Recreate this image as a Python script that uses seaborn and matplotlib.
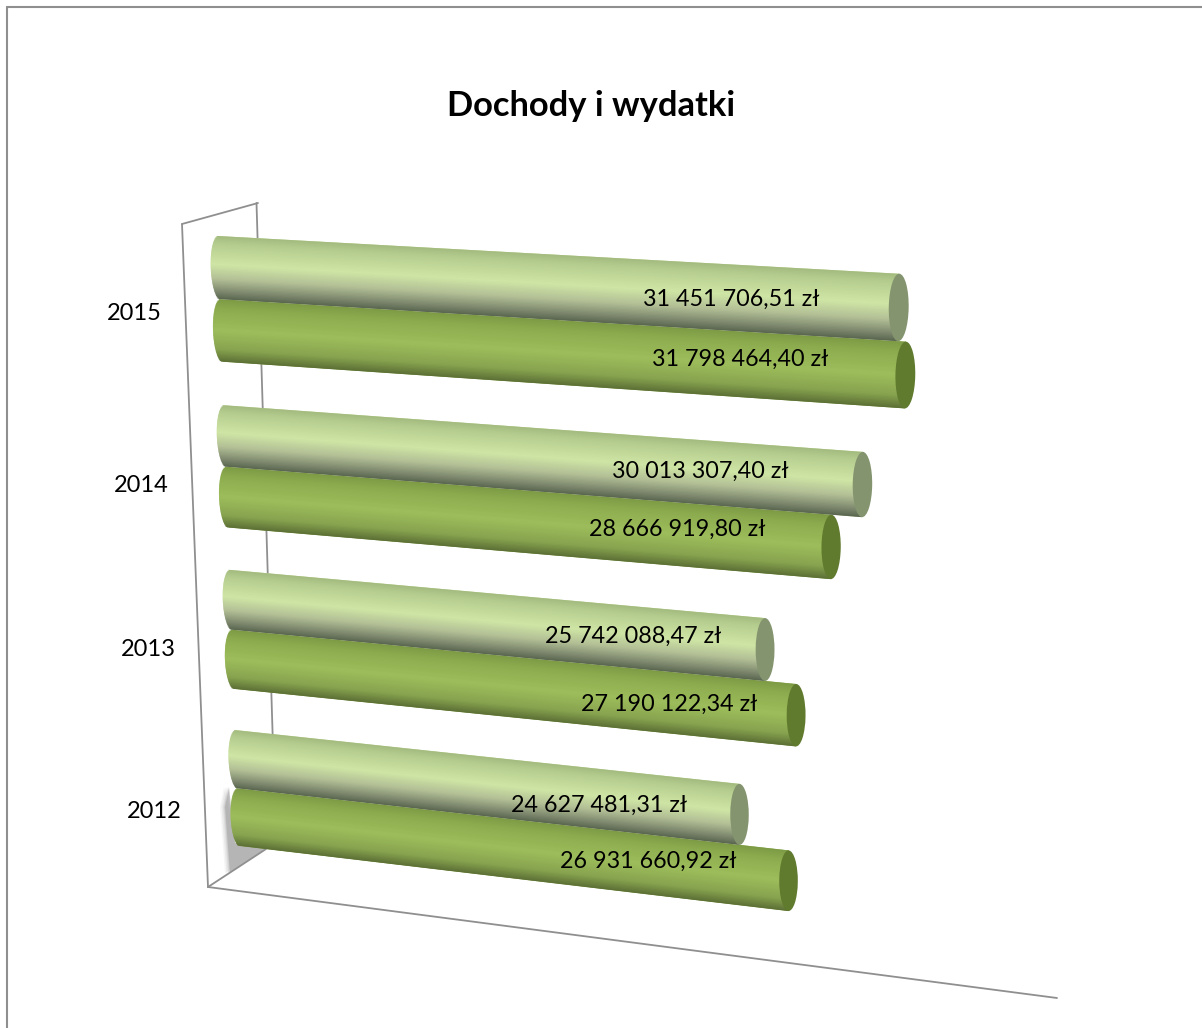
import numpy as np
import pandas as pd
import seaborn as sns
import matplotlib
matplotlib.use("Agg")
import matplotlib.pyplot as plt
from matplotlib.colors import LinearSegmentedColormap
from matplotlib.patches import Ellipse, Polygon
from matplotlib.transforms import Transform

# ---- data ----
years = ["2015", "2014", "2013", "2012"]
series_a = [31451706.51, 30013307.40, 25742088.47, 24627481.31]
series_b = [31798464.40, 28666919.80, 27190122.34, 26931660.92]
labels_a = ["31 451 706,51 zł", "30 013 307,40 zł", "25 742 088,47 zł", "24 627 481,31 zł"]
labels_b = ["31 798 464,40 zł", "28 666 919,80 zł", "27 190 122,34 zł", "26 931 660,92 zł"]
title = "Dochody i wydatki"

# ---- layout ----
W, H = 1202, 1028
label_xy_a = [(731, 299), (700, 471), (633, 636), (599, 805)]
label_xy_b = [(740, 359), (677, 529), (669, 704), (648, 861)]
year_xy = [(134, 313), (141, 485), (148, 649), (154, 811)]
FONT = "Lato"
UNIT = 1e7


def homography(src, dst):
    """Least-squares plane-to-plane fit; value axis is rescaled for conditioning."""
    A, b = [], []
    for (u, v), (x, y) in zip(src, dst):
        u = u / UNIT
        A.append([u, v, 1, 0, 0, 0, -u * x, -v * x]); b.append(x)
        A.append([0, 0, 0, u, v, 1, -u * y, -v * y]); b.append(y)
    sol = np.linalg.lstsq(np.array(A, float), np.array(b, float), rcond=None)[0]
    return np.append(sol, 1).reshape(3, 3) @ np.diag([1 / UNIT, 1, 1])


class Perspective(Transform):
    """Maps (value, category position) onto the tilted 3D plane of the chart."""
    input_dims = output_dims = 2
    is_separable = False
    has_inverse = False

    def __init__(self, matrix):
        super().__init__()
        self.m = matrix

    def transform_non_affine(self, values):
        p = np.column_stack([values, np.ones(len(values))]) @ self.m.T
        return p[:, :2] / p[:, 2:3]


# calibration of the 3D view: axis position -> pixel on the picture
persp = Perspective(homography(
    [(0, 0), (0, 1), (0, 2), (0, 3),
     (31.45e6, 0), (31.8e6, 0), (30.01e6, 1), (28.67e6, 1),
     (25.74e6, 2), (27.19e6, 2), (24.63e6, 3), (26.93e6, 3)],
    [(221, 299), (226, 467), (232, 630), (238, 788),
     (898, 340), (906, 342), (862, 518), (831, 516),
     (766, 680), (796, 683), (740, 845), (788, 851)]))

sns.set_theme(style="white")
df = pd.DataFrame({
    "rok": years * 2,
    "kwota": series_a + series_b,
    "seria": ["Wydatki"] * 4 + ["Dochody"] * 4,
})

fig = plt.figure(figsize=(W / 100, H / 100), dpi=100, facecolor="white")
ax = fig.add_axes([0, 0, 1, 1])
sns.barplot(data=df, y="rok", x="kwota", hue="seria", order=years,
            hue_order=["Wydatki", "Dochody"], orient="h", width=0.74, gap=0,
            palette=["#c4da9a", "#94b355"], legend=False, errorbar=None,
            saturation=1, ax=ax)

cmap_a = LinearSegmentedColormap.from_list("a", [
    (0, "#a3bb7e"), (.12, "#b4cc8e"), (.45, "#cfe5a5"), (.68, "#b3c096"),
    (.86, "#838e72"), (1, "#5b6651")])
cmap_b = LinearSegmentedColormap.from_list("b", [
    (0, "#7c9a44"), (.15, "#8cab4e"), (.5, "#9dbd5b"), (.8, "#88a44f"), (1, "#5c7036")])
styles = [(cmap_a, "#84946f", 5), (cmap_b, "#607a2e", 4)]
CAP = 0.43e6
N = 48

tr = persp + ax.transData
for (cmap, end, z), cont in zip(styles, ax.containers):
    for bar in cont:
        x, y, w, h = bar.get_x(), bar.get_y(), bar.get_width(), bar.get_height()
        bar.set_transform(tr)
        bar.set_zorder(z)
        bar.set_edgecolor("none")
        for i in range(N):
            t = (i + .5) / N
            s = 2 * t - 1
            inset = CAP * np.sqrt(max(0, 1 - s * s))
            strip = ax.barh(y + h * i / N, x + w + inset, height=h * 1.7 / N, left=-inset,
                            align="edge", color=cmap(t), linewidth=0, zorder=z)[0]
            if i == N - 1:
                strip.set_height(h / N)
            strip.set_transform(tr)
        ax.add_patch(Ellipse((x + w, y + h / 2), 2 * CAP, h, facecolor=end, edgecolor="none",
                             transform=tr, zorder=z))

ax.set_xlim(0, W)
ax.set_ylim(H, 0)
ax.axis("off")
ax.patch.set_visible(False)
fig.patch.set_facecolor("white")

# chart frame and 3D walls (drawn in pixel space of the axes)
LINE = "#8f8f8f"
for xs, ys, lw in [
    ([6.5, 6.5], [H, 6.5], 1.5), ([6.5, W], [6.5, 6.5], 1.5),
    ([182, 258], [224, 203], 1.3), ([182, 208], [224, 887], 1.3),
    ([256.5, 276], [203, 846], 1.3), ([208, 1057], [887, 998], 1.3),
    ([208, 266], [887, 849], 1.3),
]:
    ax.plot(xs, ys, color=LINE, lw=lw, zorder=2, solid_capstyle="round", scalex=False, scaley=False)

# soft shadow on the wall behind 2012
for grow, alpha in [(5, .10), (3.5, .15), (2, .2), (1, .25), (0, .6)]:
    ax.add_patch(Polygon([(229 - grow, 787), (225 - grow, 807), (230 - grow, 873), (265, 849), (235, 843)],
                         closed=True, facecolor="#a5a5a5", alpha=alpha, edgecolor="none", zorder=1.5))

ax.text(591, 106, title, family=FONT, fontweight="bold", fontsize=24.8, color="black",
        ha="center", va="center", zorder=10)
for txt, (px, py) in zip(labels_a + labels_b, label_xy_a + label_xy_b):
    ax.text(px, py, txt, family=FONT, fontsize=16.8, color="black", ha="center", va="center", zorder=10)
for txt, (px, py) in zip(years, year_xy):
    ax.text(px, py, txt, family=FONT, fontsize=17, color="black", ha="center", va="center", zorder=10)

fig.savefig("out.png", dpi=100)
